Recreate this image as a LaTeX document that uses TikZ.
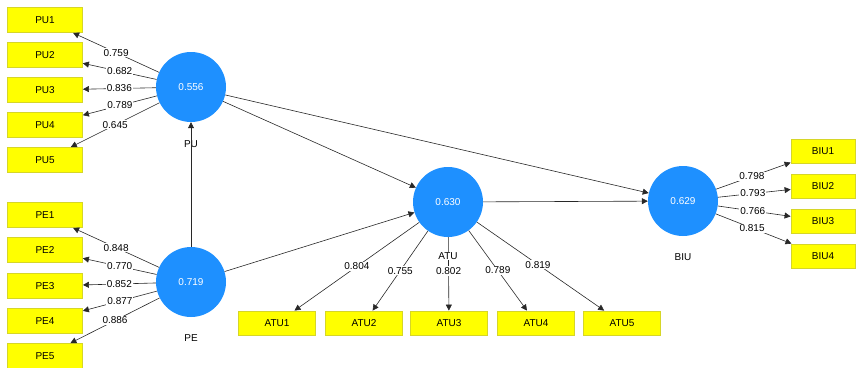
\documentclass[tikz,border=0pt]{standalone}
\usepackage{fontspec}
\setmainfont{Liberation Sans}
\usetikzlibrary{arrows.meta}
\definecolor{lvblue}{RGB}{30,144,255}
\definecolor{indyellow}{RGB}{255,255,0}
\definecolor{indedge}{RGB}{214,214,40}
\definecolor{pathgray}{RGB}{40,40,40}
\tikzset{
  latent/.style={circle, fill=lvblue, minimum size=70pt, inner sep=0pt, text=white, font=\fontsize{10}{12}\selectfont},
  indicator/.style={rectangle, fill=indyellow, draw=indedge, line width=0.8pt, minimum width=75pt, minimum height=25pt, inner sep=0pt, font=\fontsize{10}{12}\selectfont},
  lvname/.style={inner sep=1pt, font=\fontsize{10}{12}\selectfont},
  loading/.style={fill=white, inner sep=1pt, font=\fontsize{10}{12}\selectfont},
  arr/.style={draw=pathgray, line width=0.6pt, -{Triangle[length=6pt,width=6pt]}}
}

\begin{document}
\begin{tikzpicture}[x=1pt,y=1pt,yscale=-1,xscale=1]
\useasboundingbox (0,0) rectangle (856,367);

%Shape: Circles (latent variables)
\node [latent] (PU) at (191,87) {0.556};
\node [latent] (PE) at (191,282) {0.719};
\node [latent] (ATU) at (448,202) {0.630};
\node [latent] (BIU) at (683,201) {0.629};

% Text Node
\node [lvname] (PUname) at (191,144) {PU};
\node [lvname] (PEname) at (191,338) {PE};
\node [lvname] (BIUname) at (683,257) {BIU};

%Shape: Rectangles (PU indicators)
\node [indicator] (PU1) at (45,20) {PU1};
\node [indicator] (PU2) at (45,55) {PU2};
\node [indicator] (PU3) at (45,90) {PU3};
\node [indicator] (PU4) at (45,125) {PU4};
\node [indicator] (PU5) at (45,160) {PU5};

%Shape: Rectangles (PE indicators)
\node [indicator] (PE1) at (45,215) {PE1};
\node [indicator] (PE2) at (45,250) {PE2};
\node [indicator] (PE3) at (45,286) {PE3};
\node [indicator] (PE4) at (45,321) {PE4};
\node [indicator] (PE5) at (45,356) {PE5};

%Shape: Rectangles (ATU indicators)
\node [indicator, minimum width=77pt, minimum height=24pt] (ATU1) at (277,323) {ATU1};
\node [indicator, minimum width=77pt, minimum height=24pt] (ATU2) at (364,323) {ATU2};
\node [indicator, minimum width=77pt, minimum height=24pt] (ATU3) at (449,323) {ATU3};
\node [indicator, minimum width=77pt, minimum height=24pt] (ATU4) at (536,323) {ATU4};
\node [indicator, minimum width=77pt, minimum height=24pt] (ATU5) at (622,323) {ATU5};

%Shape: Rectangles (BIU indicators)
\node [indicator, minimum width=64pt, minimum height=24pt] (BIU1) at (823,151) {BIU1};
\node [indicator, minimum width=64pt, minimum height=24pt] (BIU2) at (823,186) {BIU2};
\node [indicator, minimum width=64pt, minimum height=24pt] (BIU3) at (823,221) {BIU3};
\node [indicator, minimum width=64pt, minimum height=24pt] (BIU4) at (823,256) {BIU4};

%Straight Lines (inner model)
\draw [arr] (PE) -- (PU);
\draw [arr] (PU) -- (ATU);
\draw [arr] (PE) -- (ATU);
\draw [arr] (ATU) -- (BIU);
\draw [arr] (PU) -- (BIU);

%Straight Lines (PU loadings)
\draw [arr] (PU) -- node [loading, pos=0.5] {0.759} (PU1);
\draw [arr] (PU) -- node [loading, pos=0.5] {0.682} (PU2);
\draw [arr] (PU) -- node [loading, pos=0.5] {0.836} (PU3);
\draw [arr] (PU) -- node [loading, pos=0.5] {0.789} (PU4);
\draw [arr] (PU) -- node [loading, pos=0.5] {0.645} (PU5);

%Straight Lines (PE loadings)
\draw [arr] (PE) -- node [loading, pos=0.5] {0.848} (PE1);
\draw [arr] (PE) -- node [loading, pos=0.5] {0.770} (PE2);
\draw [arr] (PE) -- node [loading, pos=0.5] {0.852} (PE3);
\draw [arr] (PE) -- node [loading, pos=0.5] {0.877} (PE4);
\draw [arr] (PE) -- node [loading, pos=0.5] {0.886} (PE5);

%Straight Lines (ATU loadings)
\draw [arr] (ATU) -- node [loading, pos=0.5] {0.804} (ATU1);
\draw [arr] (ATU) -- node [loading, pos=0.5] {0.755} (ATU2);
\draw [arr] (ATU) -- node [loading, pos=0.46] {0.802} (ATU3);
\draw [arr] (ATU) -- node [loading, pos=0.5] {0.789} (ATU4);
\draw [arr] (ATU) -- node [loading, pos=0.48] {0.819} (ATU5);

% Text Node
\node [lvname, fill=white] (ATUname) at (448,256) {ATU};

%Straight Lines (BIU loadings)
\draw [arr] (BIU) -- node [loading, pos=0.48] {0.798} (BIU1);
\draw [arr] (BIU) -- node [loading, pos=0.48] {0.793} (BIU2);
\draw [arr] (BIU) -- node [loading, pos=0.48] {0.766} (BIU3);
\draw [arr] (BIU) -- node [loading, pos=0.48] {0.815} (BIU4);

\end{tikzpicture}
\end{document}
